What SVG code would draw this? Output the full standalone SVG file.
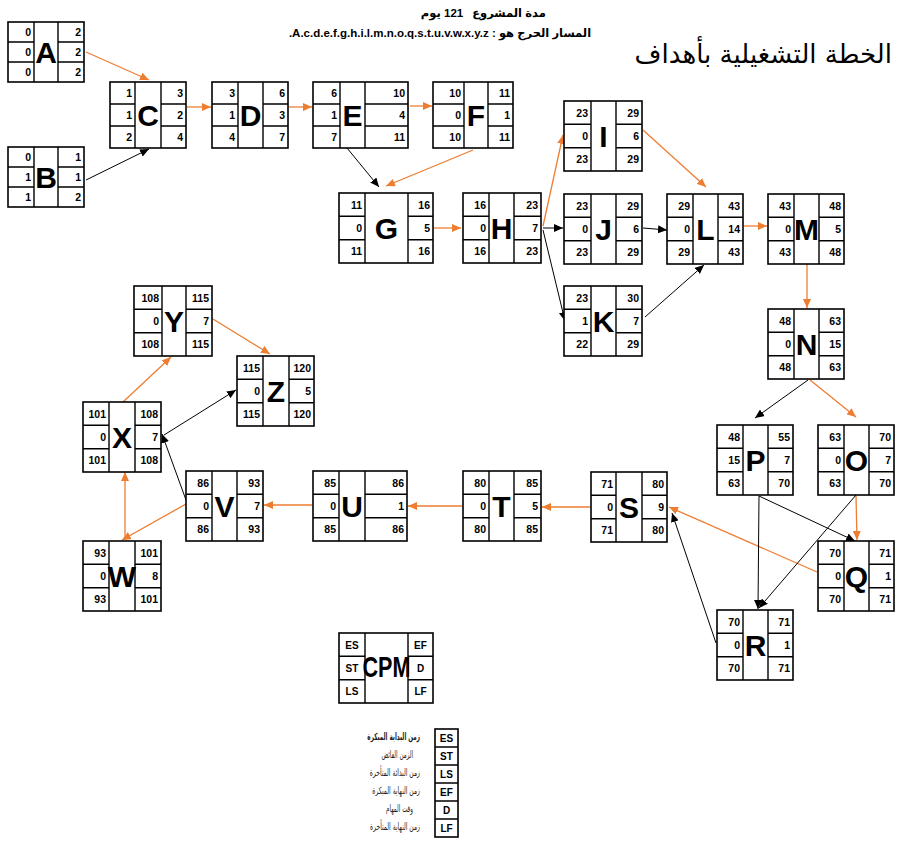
<svg xmlns="http://www.w3.org/2000/svg" width="898" height="843" viewBox="0 0 898 843">
<defs>
<style>
.box{fill:#fff;stroke:#000;stroke-width:1.6}
.grid{fill:none;stroke:#000;stroke-width:1.4}
.num{font-family:"Liberation Sans","DejaVu Sans",sans-serif;font-weight:bold;font-size:10.5px;text-anchor:end;fill:#000}
.let{font-family:"Liberation Sans",sans-serif;font-weight:bold;font-size:30px;text-anchor:middle;fill:#000}
.lab{font-family:"Liberation Sans",sans-serif;font-weight:bold;font-size:10px;text-anchor:middle;fill:#000}
.crit{fill:none;stroke:#ED7D31;stroke-width:1.3;marker-end:url(#ao)}
.norm{fill:none;stroke:#000;stroke-width:1;marker-end:url(#ab)}
.hdr{font-family:"Liberation Sans","DejaVu Sans",sans-serif;font-weight:bold;font-size:11.5px;fill:#000}
.ar{font-family:"DejaVu Sans",sans-serif;font-size:10px;text-anchor:end;fill:#222}
</style>
<marker id="ao" markerUnits="userSpaceOnUse" markerWidth="9" markerHeight="8" refX="9" refY="4" orient="auto"><path d="M0,0 L9,4 L0,8 z" fill="#ED7D31"/></marker>
<marker id="ab" markerUnits="userSpaceOnUse" markerWidth="9" markerHeight="8" refX="9" refY="4" orient="auto"><path d="M0,0 L9,4 L0,8 z" fill="#000"/></marker>
</defs>
<rect width="898" height="843" fill="#fff"/>

<g id="header">
<text class="hdr" x="509" y="17" text-anchor="middle" direction="rtl">مدة المشروع</text>
<text class="hdr" x="442" y="17" text-anchor="middle" direction="rtl">121 يوم</text>
<text class="hdr" x="440" y="37" text-anchor="middle" direction="rtl" unicode-bidi="embed">المسار الحرج هو : A.c.d.e.f.g.h.i.l.m.n.o.q.s.t.u.v.w.x.y.z.</text>
<text x="892" y="63" text-anchor="end" font-family="DejaVu Sans, sans-serif" font-size="26" fill="#000">الخطة التشغيلية بأهداف</text>
</g>

<g id="connectors">
<path class="crit" d="M86,52 L149,80"/>
<path class="crit" d="M187,107 L211,107"/>
<path class="crit" d="M289,107 L312,107"/>
<path class="crit" d="M410,106 L432,106"/>
<path class="crit" d="M473,150 L386,186"/>
<path class="crit" d="M434,228 L461,228"/>
<path class="crit" d="M543,226 L563,135"/>
<path class="crit" d="M643,130 L706,187"/>
<path class="crit" d="M744,226 L767,226"/>
<path class="crit" d="M807,264 L807,308"/>
<path class="crit" d="M810,380 L856,417"/>
<path class="crit" d="M856,496 L857,540"/>
<path class="crit" d="M817,572 L669,507"/>
<path class="crit" d="M590,507 L542,507"/>
<path class="crit" d="M462,506 L408,506"/>
<path class="crit" d="M312,505 L264,505"/>
<path class="crit" d="M186,504 L122,540"/>
<path class="crit" d="M125,540 L125,472"/>
<path class="crit" d="M123,402 L171,357"/>
<path class="crit" d="M213,319 L270,354"/>
<path class="norm" d="M86,180 L149,149"/>
<path class="norm" d="M347,148 L379,187"/>
<path class="norm" d="M543,228 L563,228"/>
<path class="norm" d="M543,230 L565,321"/>
<path class="norm" d="M643,228 L667,230"/>
<path class="norm" d="M645,317 L704,265"/>
<path class="norm" d="M808,380 L755,418"/>
<path class="norm" d="M759,496 L855,541"/>
<path class="norm" d="M759,496 L758,609"/>
<path class="norm" d="M856,495 L759,608"/>
<path class="norm" d="M716,643 L672,513"/>
<path class="norm" d="M186,500 L162,434"/>
<path class="norm" d="M164,435 L236,390"/>
</g>

<g id="A"><rect class="box" x="8" y="22" width="76" height="60"/><path class="grid" d="M34,22V82M58,22V82M8,42H34M58,42H84M8,62H34M58,62H84"/>
<text class="num" x="31" y="36">0</text><text class="num" x="31" y="56">0</text><text class="num" x="31" y="76">0</text>
<text class="num" x="81" y="36">2</text><text class="num" x="81" y="56">2</text><text class="num" x="81" y="76">2</text>
<text class="let" x="46" y="63">A</text></g>

<g id="B"><rect class="box" x="8" y="147" width="76" height="60"/><path class="grid" d="M34,147V207M58,147V207M8,167H34M58,167H84M8,187H34M58,187H84"/>
<text class="num" x="31" y="161">0</text><text class="num" x="31" y="181">1</text><text class="num" x="31" y="201">1</text>
<text class="num" x="81" y="161">1</text><text class="num" x="81" y="181">1</text><text class="num" x="81" y="201">2</text>
<text class="let" x="46" y="188">B</text></g>

<g id="C"><rect class="box" x="110" y="82" width="76" height="66"/><path class="grid" d="M135,82V148M161,82V148M110,104H135M161,104H186M110,126H135M161,126H186"/>
<text class="num" x="132" y="97">1</text><text class="num" x="132" y="119">1</text><text class="num" x="132" y="141">2</text>
<text class="num" x="183" y="97">3</text><text class="num" x="183" y="119">2</text><text class="num" x="183" y="141">4</text>
<text class="let" x="148" y="126">C</text></g>

<g id="D"><rect class="box" x="212" y="82" width="76" height="66"/><path class="grid" d="M238,82V148M263,82V148M212,104H238M263,104H288M212,126H238M263,126H288"/>
<text class="num" x="235" y="97">3</text><text class="num" x="235" y="119">1</text><text class="num" x="235" y="141">4</text>
<text class="num" x="285" y="97">6</text><text class="num" x="285" y="119">3</text><text class="num" x="285" y="141">7</text>
<text class="let" x="250.5" y="126">D</text></g>

<g id="E"><rect class="box" x="313" y="82" width="95" height="66"/><path class="grid" d="M340,82V148M365,82V148M313,104H340M365,104H408M313,126H340M365,126H408"/>
<text class="num" x="337" y="97">6</text><text class="num" x="337" y="119">1</text><text class="num" x="337" y="141">7</text>
<text class="num" x="405" y="97">10</text><text class="num" x="405" y="119">4</text><text class="num" x="405" y="141">11</text>
<text class="let" x="352.5" y="126">E</text></g>

<g id="F"><rect class="box" x="433" y="82" width="80" height="66"/><path class="grid" d="M464,82V148M488,82V148M433,104H464M488,104H513M433,126H464M488,126H513"/>
<text class="num" x="461" y="97">10</text><text class="num" x="461" y="119">0</text><text class="num" x="461" y="141">10</text>
<text class="num" x="510" y="97">11</text><text class="num" x="510" y="119">1</text><text class="num" x="510" y="141">11</text>
<text class="let" x="476" y="126">F</text></g>

<g id="G"><rect class="box" x="339" y="193" width="94" height="70"/><path class="grid" d="M365,193V263M408,193V263M339,216.3H365M408,216.3H433M339,239.7H365M408,239.7H433"/>
<text class="num" x="362" y="208.7">11</text><text class="num" x="362" y="232">0</text><text class="num" x="362" y="255.3">11</text>
<text class="num" x="430" y="208.7">16</text><text class="num" x="430" y="232">5</text><text class="num" x="430" y="255.3">16</text>
<text class="let" x="386.5" y="239">G</text></g>

<g id="H"><rect class="box" x="463" y="193" width="78" height="70"/><path class="grid" d="M489,193V263M514,193V263M463,216.3H489M514,216.3H541M463,239.7H489M514,239.7H541"/>
<text class="num" x="486" y="208.7">16</text><text class="num" x="486" y="232">0</text><text class="num" x="486" y="255.3">16</text>
<text class="num" x="538" y="208.7">23</text><text class="num" x="538" y="232">7</text><text class="num" x="538" y="255.3">23</text>
<text class="let" x="501.5" y="239">H</text></g>

<g id="I"><rect class="box" x="564" y="101" width="78" height="70"/><path class="grid" d="M591,101V171M616,101V171M564,124.3H591M616,124.3H642M564,147.7H591M616,147.7H642"/>
<text class="num" x="588" y="116.7">23</text><text class="num" x="588" y="140">0</text><text class="num" x="588" y="163.3">23</text>
<text class="num" x="639" y="116.7">29</text><text class="num" x="639" y="140">6</text><text class="num" x="639" y="163.3">29</text>
<text class="let" x="603.5" y="147">I</text></g>

<g id="J"><rect class="box" x="564" y="194" width="78" height="70"/><path class="grid" d="M591,194V264M616,194V264M564,217.3H591M616,217.3H642M564,240.7H591M616,240.7H642"/>
<text class="num" x="588" y="209.7">23</text><text class="num" x="588" y="233">0</text><text class="num" x="588" y="256.3">23</text>
<text class="num" x="639" y="209.7">29</text><text class="num" x="639" y="233">6</text><text class="num" x="639" y="256.3">29</text>
<text class="let" x="603.5" y="240">J</text></g>

<g id="K"><rect class="box" x="564" y="286" width="78" height="70"/><path class="grid" d="M591,286V356M616,286V356M564,309.3H591M616,309.3H642M564,332.7H591M616,332.7H642"/>
<text class="num" x="588" y="301.7">23</text><text class="num" x="588" y="325">1</text><text class="num" x="588" y="348.3">22</text>
<text class="num" x="639" y="301.7">30</text><text class="num" x="639" y="325">7</text><text class="num" x="639" y="348.3">29</text>
<text class="let" x="603.5" y="332">K</text></g>

<g id="L"><rect class="box" x="667" y="194" width="76" height="70"/><path class="grid" d="M693,194V264M718,194V264M667,217.3H693M718,217.3H743M667,240.7H693M718,240.7H743"/>
<text class="num" x="690" y="209.7">29</text><text class="num" x="690" y="233">0</text><text class="num" x="690" y="256.3">29</text>
<text class="num" x="740" y="209.7">43</text><text class="num" x="740" y="233">14</text><text class="num" x="740" y="256.3">43</text>
<text class="let" x="705.5" y="240">L</text></g>

<g id="M"><rect class="box" x="768" y="194" width="76" height="70"/><path class="grid" d="M794,194V264M819,194V264M768,217.3H794M819,217.3H844M768,240.7H794M819,240.7H844"/>
<text class="num" x="791" y="209.7">43</text><text class="num" x="791" y="233">0</text><text class="num" x="791" y="256.3">43</text>
<text class="num" x="841" y="209.7">48</text><text class="num" x="841" y="233">5</text><text class="num" x="841" y="256.3">48</text>
<text class="let" x="806.5" y="240">M</text></g>

<g id="N"><rect class="box" x="768" y="309" width="76" height="70"/><path class="grid" d="M794,309V379M819,309V379M768,332.3H794M819,332.3H844M768,355.7H794M819,355.7H844"/>
<text class="num" x="791" y="324.7">48</text><text class="num" x="791" y="348">0</text><text class="num" x="791" y="371.3">48</text>
<text class="num" x="841" y="324.7">63</text><text class="num" x="841" y="348">15</text><text class="num" x="841" y="371.3">63</text>
<text class="let" x="806.5" y="355">N</text></g>

<g id="P"><rect class="box" x="717" y="425" width="76" height="70"/><path class="grid" d="M743,425V495M768,425V495M717,448.3H743M768,448.3H793M717,471.7H743M768,471.7H793"/>
<text class="num" x="740" y="440.7">48</text><text class="num" x="740" y="464">15</text><text class="num" x="740" y="487.3">63</text>
<text class="num" x="790" y="440.7">55</text><text class="num" x="790" y="464">7</text><text class="num" x="790" y="487.3">70</text>
<text class="let" x="755.5" y="471">P</text></g>

<g id="O"><rect class="box" x="818" y="425" width="76" height="70"/><path class="grid" d="M844,425V495M869,425V495M818,448.3H844M869,448.3H894M818,471.7H844M869,471.7H894"/>
<text class="num" x="841" y="440.7">63</text><text class="num" x="841" y="464">0</text><text class="num" x="841" y="487.3">63</text>
<text class="num" x="891" y="440.7">70</text><text class="num" x="891" y="464">7</text><text class="num" x="891" y="487.3">70</text>
<text class="let" x="856.5" y="471">O</text></g>

<g id="S"><rect class="box" x="591" y="472" width="76" height="70"/><path class="grid" d="M616,472V542M642,472V542M591,495.3H616M642,495.3H667M591,518.7H616M642,518.7H667"/>
<text class="num" x="613" y="487.7">71</text><text class="num" x="613" y="511">0</text><text class="num" x="613" y="534.3">71</text>
<text class="num" x="664" y="487.7">80</text><text class="num" x="664" y="511">9</text><text class="num" x="664" y="534.3">80</text>
<text class="let" x="629" y="518">S</text></g>

<g id="Q"><rect class="box" x="818" y="541" width="76" height="70"/><path class="grid" d="M844,541V611M869,541V611M818,564.3H844M869,564.3H894M818,587.7H844M869,587.7H894"/>
<text class="num" x="841" y="556.7">70</text><text class="num" x="841" y="580">0</text><text class="num" x="841" y="603.3">70</text>
<text class="num" x="891" y="556.7">71</text><text class="num" x="891" y="580">1</text><text class="num" x="891" y="603.3">71</text>
<text class="let" x="856.5" y="587">Q</text></g>

<g id="R"><rect class="box" x="717" y="610" width="76" height="70"/><path class="grid" d="M743,610V680M768,610V680M717,633.3H743M768,633.3H793M717,656.7H743M768,656.7H793"/>
<text class="num" x="740" y="625.7">70</text><text class="num" x="740" y="649">0</text><text class="num" x="740" y="672.3">70</text>
<text class="num" x="790" y="625.7">71</text><text class="num" x="790" y="649">1</text><text class="num" x="790" y="672.3">71</text>
<text class="let" x="755.5" y="656">R</text></g>

<g id="T"><rect class="box" x="463" y="471" width="78" height="70"/><path class="grid" d="M489,471V541M514,471V541M463,494.3H489M514,494.3H541M463,517.7H489M514,517.7H541"/>
<text class="num" x="486" y="486.7">80</text><text class="num" x="486" y="510">0</text><text class="num" x="486" y="533.3">80</text>
<text class="num" x="538" y="486.7">85</text><text class="num" x="538" y="510">5</text><text class="num" x="538" y="533.3">85</text>
<text class="let" x="501.5" y="517">T</text></g>

<g id="U"><rect class="box" x="313" y="471" width="94" height="70"/><path class="grid" d="M339,471V541M365,471V541M313,494.3H339M365,494.3H407M313,517.7H339M365,517.7H407"/>
<text class="num" x="336" y="486.7">85</text><text class="num" x="336" y="510">0</text><text class="num" x="336" y="533.3">85</text>
<text class="num" x="404" y="486.7">86</text><text class="num" x="404" y="510">1</text><text class="num" x="404" y="533.3">86</text>
<text class="let" x="352" y="517">U</text></g>

<g id="V"><rect class="box" x="186" y="471" width="77" height="70"/><path class="grid" d="M212,471V541M237,471V541M186,494.3H212M237,494.3H263M186,517.7H212M237,517.7H263"/>
<text class="num" x="209" y="486.7">86</text><text class="num" x="209" y="510">0</text><text class="num" x="209" y="533.3">86</text>
<text class="num" x="260" y="486.7">93</text><text class="num" x="260" y="510">7</text><text class="num" x="260" y="533.3">93</text>
<text class="let" x="224.5" y="517">V</text></g>

<g id="W"><rect class="box" x="83" y="541" width="78" height="70"/><path class="grid" d="M109,541V611M135,541V611M83,564.3H109M135,564.3H161M83,587.7H109M135,587.7H161"/>
<text class="num" x="106" y="556.7">93</text><text class="num" x="106" y="580">0</text><text class="num" x="106" y="603.3">93</text>
<text class="num" x="158" y="556.7">101</text><text class="num" x="158" y="580">8</text><text class="num" x="158" y="603.3">101</text>
<text class="let" x="122" y="587">W</text></g>

<g id="X"><rect class="box" x="83" y="402" width="78" height="70"/><path class="grid" d="M109,402V472M135,402V472M83,425.3H109M135,425.3H161M83,448.7H109M135,448.7H161"/>
<text class="num" x="106" y="417.7">101</text><text class="num" x="106" y="441">0</text><text class="num" x="106" y="464.3">101</text>
<text class="num" x="158" y="417.7">108</text><text class="num" x="158" y="441">7</text><text class="num" x="158" y="464.3">108</text>
<text class="let" x="122" y="448">X</text></g>

<g id="Y"><rect class="box" x="134" y="286" width="78" height="70"/><path class="grid" d="M162,286V356M186,286V356M134,309.3H162M186,309.3H212M134,332.7H162M186,332.7H212"/>
<text class="num" x="159" y="301.7">108</text><text class="num" x="159" y="325">0</text><text class="num" x="159" y="348.3">108</text>
<text class="num" x="209" y="301.7">115</text><text class="num" x="209" y="325">7</text><text class="num" x="209" y="348.3">115</text>
<text class="let" x="174" y="332">Y</text></g>

<g id="Z"><rect class="box" x="237" y="356" width="77" height="70"/><path class="grid" d="M263,356V426M289,356V426M237,379.3H263M289,379.3H314M237,402.7H263M289,402.7H314"/>
<text class="num" x="260" y="371.7">115</text><text class="num" x="260" y="395">0</text><text class="num" x="260" y="418.3">115</text>
<text class="num" x="311" y="371.7">120</text><text class="num" x="311" y="395">5</text><text class="num" x="311" y="418.3">120</text>
<text class="let" x="276" y="402">Z</text></g>

<g id="CPM"><rect class="box" x="339" y="633" width="94" height="70"/><path class="grid" d="M365,633V703M408,633V703M339,656.3H365M408,656.3H433M339,679.7H365M408,679.7H433"/>
<text class="lab" x="352" y="648.7">ES</text><text class="lab" x="352" y="672">ST</text><text class="lab" x="352" y="695.3">LS</text>
<text class="lab" x="420.5" y="648.7">EF</text><text class="lab" x="420.5" y="672">D</text><text class="lab" x="420.5" y="695.3">LF</text>
<text class="let" font-size="25" transform="translate(386.5,677) scale(0.72,1)" x="0" y="0">CPM</text></g>

<g id="legend">
<rect class="box" x="435" y="729" width="23" height="108"/>
<path class="grid" d="M435,747H458M435,765H458M435,783H458M435,801H458M435,819H458"/>
<text class="lab" x="446.5" y="742">ES</text><text class="lab" x="446.5" y="760">ST</text><text class="lab" x="446.5" y="778">LS</text>
<text class="lab" x="446.5" y="796">EF</text><text class="lab" x="446.5" y="814">D</text><text class="lab" x="446.5" y="832">LF</text>
<text class="ar" transform="translate(420,740) scale(0.56,1)" x="0" y="0" font-weight="bold" fill="#000">زمن البداية المبكرة</text>
<text class="ar" transform="translate(413,758) scale(0.56,1)" x="0" y="0">الزمن الفائض</text>
<text class="ar" transform="translate(420,776) scale(0.6,1)" x="0" y="0">زمن البدائة المتأخرة</text>
<text class="ar" transform="translate(420,794) scale(0.6,1)" x="0" y="0">زمن النهاية المبكرة</text>
<text class="ar" transform="translate(413,812) scale(0.56,1)" x="0" y="0">وقت المهام</text>
<text class="ar" transform="translate(420,830) scale(0.6,1)" x="0" y="0">زمن النهاية المتأخرة</text>
</g>
</svg>
